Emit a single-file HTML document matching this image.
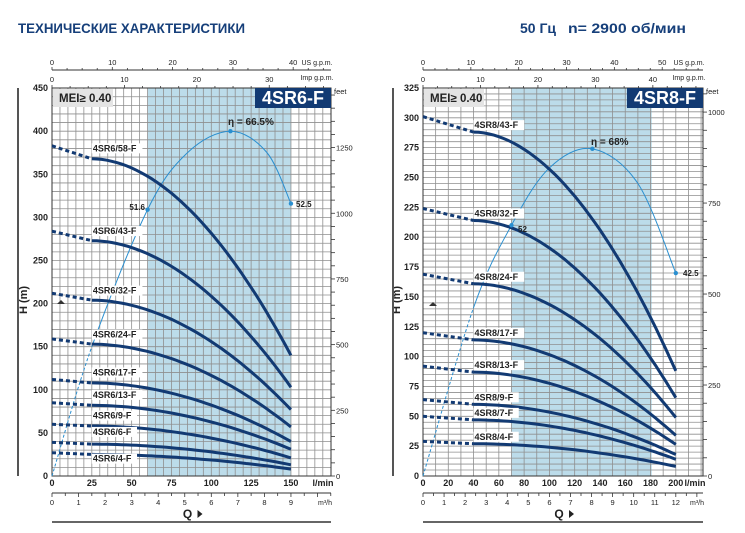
<!DOCTYPE html>
<html><head><meta charset="utf-8"><style>
body{margin:0;background:#fff}
svg{display:block;font-family:"Liberation Sans","DejaVu Sans",sans-serif}
</style></head><body>
<svg id="s" width="745" height="533" viewBox="0 0 745 533" xmlns="http://www.w3.org/2000/svg">
<text x="18" y="33" font-size="14" font-weight="bold" fill="#163f7a" textLength="227" lengthAdjust="spacingAndGlyphs">ТЕХНИЧЕСКИЕ ХАРАКТЕРИСТИКИ</text>
<text x="520" y="33" font-size="14" font-weight="bold" fill="#163f7a" textLength="36" lengthAdjust="spacingAndGlyphs">50 Гц</text>
<text x="568" y="33" font-size="14" font-weight="bold" fill="#163f7a" textLength="118" lengthAdjust="spacingAndGlyphs">n= 2900 об/мин</text>
<g id="g"></g>
</svg>
<script>
const NS="http://www.w3.org/2000/svg",G=document.getElementById('g');
function el(t,a,txt){const e=document.createElementNS(NS,t);for(const k in a)e.setAttribute(k,a[k]);if(txt!==undefined)e.textContent=txt;G.appendChild(e);return e;}
function line(x1,y1,x2,y2,c,w,extra){return el('line',Object.assign({x1,y1,x2,y2,stroke:c,'stroke-width':w},extra||{}));}
function txt(x,y,s,o){return el('text',Object.assign({x,y,'font-size':9,'font-weight':'bold',fill:'#222','text-anchor':'middle'},o||{}),s);}
function crSegs(pts){const segs=[];for(let i=0;i<pts.length-1;i++){const p0=pts[Math.max(0,i-1)],p1=pts[i],p2=pts[i+1],p3=pts[Math.min(pts.length-1,i+2)];segs.push('M'+p1[0]+','+p1[1]+' C'+(p1[0]+(p2[0]-p0[0])/6)+','+(p1[1]+(p2[1]-p0[1])/6)+' '+(p2[0]-(p3[0]-p1[0])/6)+','+(p2[1]-(p3[1]-p1[1])/6)+' '+p2[0]+','+p2[1]);}return segs;}

function chart(c){
 const X=q=>c.x0+q*c.sx, Y=h=>476-h*c.sy;
 const L=c.x0,R=c.xr,T=88,B=476;
 el('rect',{x:L,y:T,width:R-L,height:B-T,fill:'#fff'});
 el('rect',{x:X(c.band[0]),y:T,width:X(c.band[1])-X(c.band[0]),height:B-T,fill:'#bcdcea'});
 for(let q=c.gq;X(q)<R-1;q+=c.gq) line(X(q),T,X(q),B,'#8f8f8f',0.8);
 for(let h=c.gh;Y(h)>T+1;h+=c.gh) line(L,Y(h),R,Y(h),'#8f8f8f',0.8);
 el('rect',{x:L,y:T,width:R-L,height:B-T,fill:'none',stroke:'#333','stroke-width':1});
 for(let h=0;h<=c.hmax;h+=c.hl) txt(L-4,Y(h)+3,String(h),{'text-anchor':'end','font-size':9});
 el('text',{x:0,y:0,'font-size':11,'font-weight':'bold',fill:'#222','text-anchor':'middle',transform:`translate(${c.hx},300) rotate(-90)`},'H (m)');
 line(c.vx,88,c.vx,476,'#555',2);
 el('path',{d:`M${c.tri-4},${c.triy+2} L${c.tri+4},${c.triy+2} L${c.tri},${c.triy-2}Z`,fill:'#333'});
 for(let f=0;f*0.3048<=c.hmax+1;f+=50){const y=Y(f*0.3048);if(y<T)break;line(R,y,R+4,y,'#333',0.8);}
 c.feet.forEach(f=>txt(R+5,Y(f*0.3048)+3,String(f),{'text-anchor':'start','font-size':7.5,'font-weight':'normal'}));
 txt(R+3,T+6,'feet',{'text-anchor':'start','font-size':7.5,'font-weight':'normal'});
 c.ql.forEach(q=>txt(X(q),486,String(q),{'font-size':9}));
 txt(R-8,486,'l/min',{'font-size':9});
 line(L,493,R,493,'#333',1);
 for(let m=0;X(m*1000/60)<=R;m+=0.5){const x=X(m*1000/60);line(x,493,x,m%1?496:497,'#333',0.8);if(m%1===0&&m<=c.mmax)txt(x,505,String(m),{'font-size':7.5,'font-weight':'normal'});}
 txt(R-6,505,'m³/h',{'font-size':7,'font-weight':'normal'});
 txt((L+R)/2-4,518,'Q',{'font-size':12});
 el('path',{d:`M${(L+R)/2+6},${510} L${(L+R)/2+11},${514} L${(L+R)/2+6},${518}Z`,fill:'#222'});
 line(L,522,R,522,'#333',1.5);
 line(L,70,R,70,'#333',1);
 for(let g=0;X(g*3.785)<=R;g+=2.5){const x=X(g*3.785);line(x,70,x,g%10?68:67,'#333',0.8);if(g%10===0)txt(x,65,String(g),{'font-size':7.5,'font-weight':'normal'});}
 txt(R-14,65,'US g.p.m.',{'font-size':7,'font-weight':'normal'});
 for(let g=0;X(g*4.546)<=R;g+=2.5){const x=X(g*4.546);line(x,T,x,g%10?T-2:T-3,'#333',0.8);if(g%10===0)txt(x,82,String(g),{'font-size':7.5,'font-weight':'normal'});}
 txt(R-14,80,'Imp g.p.m.',{'font-size':7,'font-weight':'normal'});
 el('rect',{x:L+1,y:T+1,width:60,height:18,fill:'#e4e4e4'});
 txt(L+7,T+14,'MEI≥ 0.40',{'text-anchor':'start','font-size':11.5,'fill':'#222'});
 el('rect',{x:R-76,y:T,width:76,height:20,fill:'#123a73'});
 txt(R-38,T+16,c.name,{'font-size':18,'fill':'#fff'});
 // efficiency
 const ep=c.eff.map(p=>[X(p[0]),Y(p[1])]);
 const segs=crSegs(ep);
 segs.forEach((d,i)=>el('path',{d,fill:'none',stroke:'#2a8fd0','stroke-width':1,'stroke-dasharray':i===0?'3,2':'none'}));
 // curves
 c.curves.forEach(k=>{
  const [nm,h0,hs,he]=k;
  line(X(0),Y(h0),X(c.qs),Y(hs),'#123a73',3,{'stroke-dasharray':'4,3'});
  const pts=[];for(let i=0;i<=40;i++){const q=c.qs+(c.qe-c.qs)*i/40;const t=i/40;pts.push(X(q).toFixed(1)+','+Y(hs-(hs-he)*Math.pow(t,c.p)).toFixed(1));}
  el('polyline',{points:pts.join(' '),fill:'none',stroke:'#123a73','stroke-width':3});
  const ly=Y(k[4]!==undefined?k[4]:hs)-4;
  el('rect',{x:X(c.qs),y:ly-8,width:nm.length*5.4+2,height:10,fill:'#fff'});
  txt(X(c.qs)+1,ly,nm,{'text-anchor':'start','font-size':9});
 });
 c.effDots.forEach(i=>el('circle',{cx:ep[i][0],cy:ep[i][1],r:2.2,fill:'#2a8fd0'}));
 c.effLabels.forEach(l=>txt(l[0],l[1],l[2],{'text-anchor':l[3]||'start','font-size':l[4]||9}));
}
chart({x0:52,xr:331,sx:1.593,sy:0.862,hmax:450,hl:50,gq:5,gh:10,band:[60,150],hx:27,vx:18,tri:61,triy:302,
 feet:[0,250,500,750,1000,1250],ql:[0,25,50,75,100,125,150],mmax:9,name:'4SR6-F',qs:25,qe:150,p:1.9,
 curves:[['4SR6/58-F',383,368,140,372],['4SR6/43-F',284,273,103,276],['4SR6/32-F',212,204,77,207],['4SR6/24-F',159,153,57,156],['4SR6/17-F',112,108,40,112],['4SR6/13-F',85,82,31,86],['4SR6/9-F',60,58,21,62],['4SR6/6-F',39,37,13,43],['4SR6/4-F',27,25,8,12]],
 eff:[[0,0],[25,150],[60,309],[85,375],[112,400],[135,375],[150,316]],effDots:[2,4,6],
 effLabels:[[145,210,'51.6','end',8],[296,207,'52.5','start',8],[228,125,'η = 66.5%','start',10]]});
chart({x0:423,xr:703,sx:1.264,sy:1.194,hmax:325,hl:25,gq:10,gh:5,band:[70,181],hx:400,vx:393,tri:433,triy:304,
 feet:[0,250,500,750,1000],ql:[0,20,40,60,80,100,120,140,160,180,200],mmax:12,name:'4SR8-F',qs:40,qe:200,p:1.9,
 curves:[['4SR8/43-F',301,288,88],['4SR8/32-F',224,214,65.6],['4SR8/24-F',169,161,49],['4SR8/17-F',120,114,34],['4SR8/13-F',92,87,26.5],['4SR8/9-F',64,60,18],['4SR8/7-F',50,47,14],['4SR8/4-F',29,27,8]],
 eff:[[0,0],[40,141],[70,210],[100,258],[134,274],[170,245],[200,170]],effDots:[2,4,6],
 effLabels:[[518,232,'52','start',8],[683,276,'42.5','start',8],[591,145,'η = 68%','start',10]]});
</script>
</body></html>
